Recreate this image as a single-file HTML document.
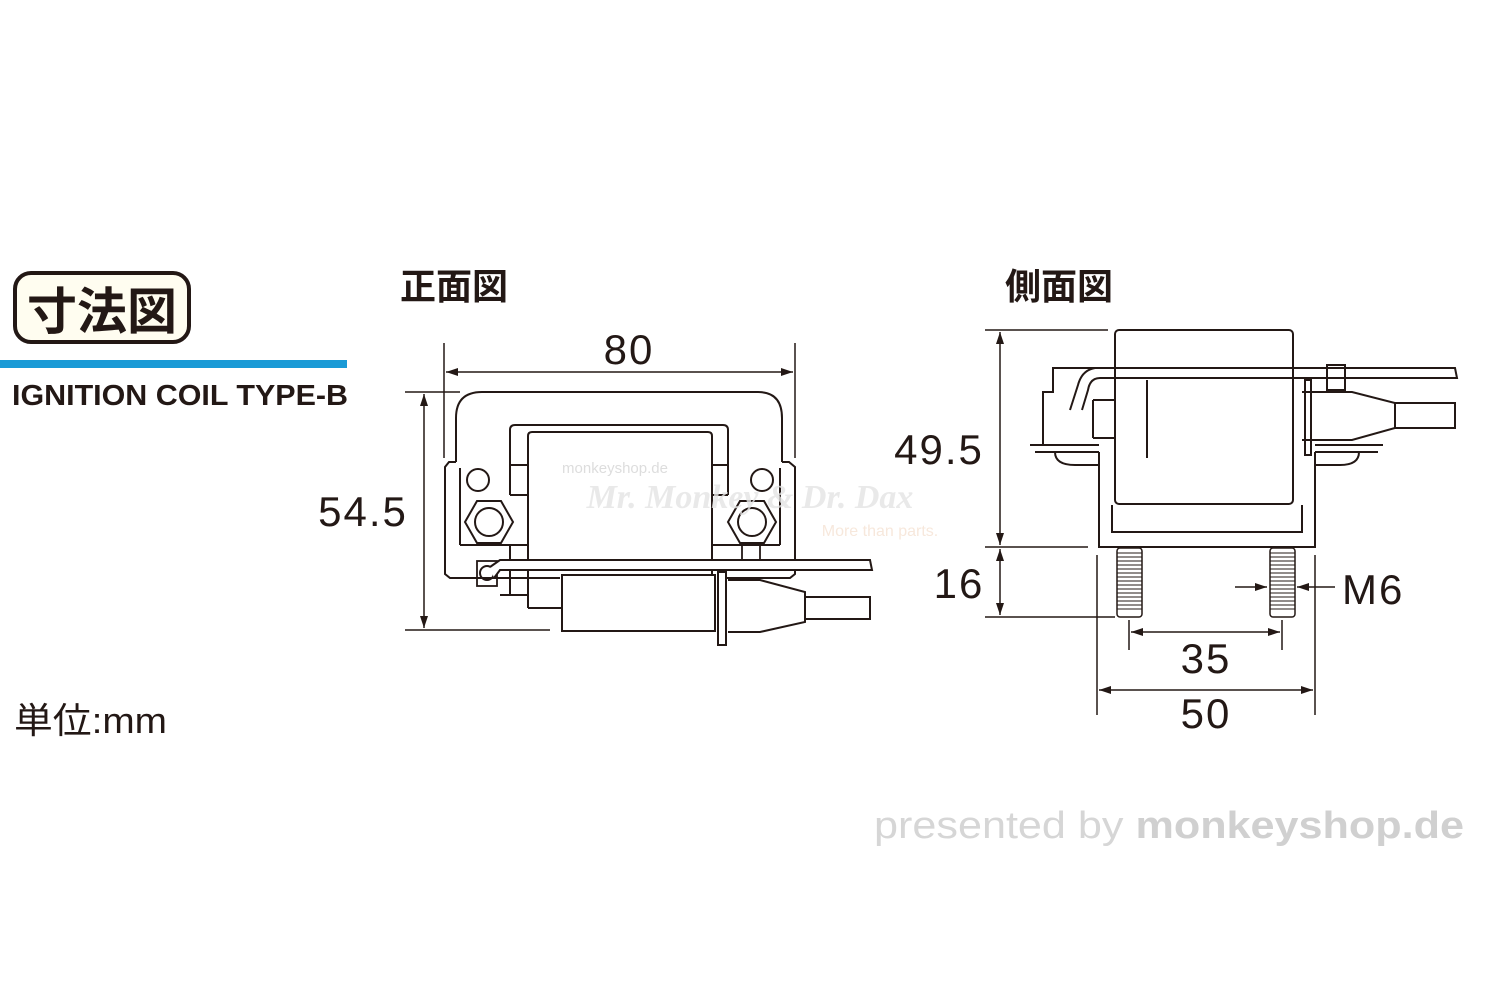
<!DOCTYPE html>
<html><head><meta charset="utf-8"><style>
html,body{margin:0;padding:0;background:#fff;}
body{width:1500px;height:1000px;position:relative;overflow:hidden;font-family:"Liberation Sans","Noto Sans CJK JP",sans-serif;}
</style></head><body>
<svg width="1500" height="1000" viewBox="0 0 1500 1000" xmlns="http://www.w3.org/2000/svg">
<defs>
<marker id="ar" viewBox="0 0 10 10" refX="10" refY="5" markerWidth="12" markerHeight="8" markerUnits="userSpaceOnUse" orient="auto-start-reverse" preserveAspectRatio="none">
<path d="M0,0 L10,5 L0,10 z" fill="#231815"/></marker>
</defs>
<rect x="15" y="273" width="174" height="69" rx="16" fill="#fffdf0" stroke="#231815" stroke-width="4"/>
<text x="102" y="329" font-size="50" font-weight="bold" text-anchor="middle" fill="#231815" font-family="Noto Sans CJK JP, sans-serif">寸法図</text>
<rect x="0" y="360" width="347" height="8" fill="#1a9ad6"/>
<text x="12" y="405" font-size="29" font-weight="bold" fill="#231815" textLength="336" lengthAdjust="spacingAndGlyphs">IGNITION COIL TYPE-B</text>
<text x="14" y="733" font-size="36" fill="#231815" textLength="153" lengthAdjust="spacingAndGlyphs" font-family="Liberation Sans, Noto Sans CJK JP, sans-serif">単位:mm</text>
<text x="400" y="299" font-size="36" font-weight="bold" fill="#231815" font-family="Noto Sans CJK JP, sans-serif">正面図</text>
<text x="1005" y="299" font-size="36" font-weight="bold" fill="#231815" font-family="Noto Sans CJK JP, sans-serif">側面図</text>
<text x="874" y="838" font-size="38" fill="#d6d6d6" textLength="590" lengthAdjust="spacingAndGlyphs">presented by <tspan font-weight="bold" fill="#d0d0d0">monkeyshop.de</tspan></text>

<g fill="none" stroke="#231815" stroke-width="2">
<line x1="444" y1="343" x2="444" y2="458" stroke-width="1.5"/>
<line x1="795" y1="343" x2="795" y2="458" stroke-width="1.5"/>
<line x1="446" y1="372" x2="793" y2="372" marker-start="url(#ar)" marker-end="url(#ar)" stroke-width="1.5"/>
<line x1="405" y1="392" x2="460" y2="392" stroke-width="1.5"/>
<line x1="405" y1="630" x2="550" y2="630" stroke-width="1.5"/>
<line x1="424" y1="394" x2="424" y2="628" marker-start="url(#ar)" marker-end="url(#ar)" stroke-width="1.5"/>
<path d="M456,462 L456,418 Q456,392 482,392 L758,392 Q782,392 782,418 L782,462"/>
<path d="M456,462 L449,462 L445,467 L445,574 L450,578 L560,578"/>
<path d="M782,462 L789,462 L795,467 L795,574 L790,578 L720,578"/>
<line x1="460" y1="468" x2="460" y2="545"/>
<line x1="780" y1="468" x2="780" y2="545"/>
<line x1="460" y1="545" x2="528" y2="545"/>
<line x1="712" y1="545" x2="780" y2="545"/>
<path d="M510,495 L510,430 Q510,425 515,425 L723,425 Q728,425 728,430 L728,495"/>
<line x1="510" y1="465" x2="528" y2="465"/>
<line x1="712" y1="465" x2="728" y2="465"/>
<line x1="510" y1="495" x2="528" y2="495"/>
<line x1="712" y1="495" x2="728" y2="495"/>
<path d="M528,608 L528,436 Q528,432 532,432 L708,432 Q712,432 712,436 L712,575"/>
<line x1="510" y1="545" x2="510" y2="595"/>
<line x1="500" y1="595" x2="528" y2="595"/>
<line x1="528" y1="608" x2="562" y2="608"/>
<circle cx="478" cy="480" r="11"/>
<circle cx="762" cy="480" r="11"/>
<polygon points="465,522 477,501 501,501 513,522 501,543 477,543"/>
<circle cx="489" cy="522" r="14"/>
<polygon points="728,522 740,501 764,501 776,522 764,543 740,543"/>
<circle cx="752" cy="522" r="14"/>
<rect x="742" y="543" width="18" height="27" stroke-width="1.8"/>
<rect x="477" y="561" width="20" height="25" stroke-width="1.8"/>
<circle cx="487" cy="573" r="7"/>
<path d="M490,567 L500,560 L870,560 L872,570 L500,570 L494,578" fill="#fff"/>
<rect x="562" y="575" width="153" height="56"/>
<rect x="718" y="572" width="8" height="73" fill="#fff"/>
<path d="M728,580 L760,580 L805,592 L805,622 L760,632 L728,632"/>
<rect x="805" y="597" width="65" height="22"/>
<line x1="985" y1="330" x2="1108" y2="330" stroke-width="1.5"/>
<line x1="985" y1="547" x2="1088" y2="547" stroke-width="1.5"/>
<line x1="985" y1="617" x2="1115" y2="617" stroke-width="1.5"/>
<line x1="1000" y1="332" x2="1000" y2="545" marker-start="url(#ar)" marker-end="url(#ar)" stroke-width="1.5"/>
<line x1="1000" y1="549" x2="1000" y2="615" marker-start="url(#ar)" marker-end="url(#ar)" stroke-width="1.5"/>
<line x1="1235" y1="587" x2="1267" y2="587" marker-end="url(#ar)" stroke-width="1.5"/>
<line x1="1335" y1="587" x2="1297" y2="587" marker-end="url(#ar)" stroke-width="1.5"/>
<line x1="1129" y1="620" x2="1129" y2="650" stroke-width="1.5"/>
<line x1="1282" y1="620" x2="1282" y2="650" stroke-width="1.5"/>
<line x1="1131" y1="632" x2="1280" y2="632" marker-start="url(#ar)" marker-end="url(#ar)" stroke-width="1.5"/>
<line x1="1097" y1="555" x2="1097" y2="715" stroke-width="1.5"/>
<line x1="1315" y1="555" x2="1315" y2="715" stroke-width="1.5"/>
<line x1="1099" y1="690" x2="1313" y2="690" marker-start="url(#ar)" marker-end="url(#ar)" stroke-width="1.5"/>
<path d="M1099,452 L1099,547 L1315,547 L1315,452"/>
<path d="M1112,505 L1112,532 L1302,532 L1302,505"/>
<rect x="1115" y="330" width="178" height="174" rx="4"/>
<line x1="1147" y1="380" x2="1147" y2="458"/>
<path d="M1030,445 L1099,445 M1315,445 L1383,445"/>
<path d="M1035,452 L1099,452 M1315,452 L1378,452"/>
<path d="M1043,444 L1043,392 L1053,392 L1053,368 L1090,368"/>
<path d="M1090,368 L1455,368 L1457,378 L1100,378 Q1090,378 1088,390 L1082,410" />
<path d="M1070,410 L1078,385 Q1082,370 1095,368"/>
<path d="M1093,400 L1115,400 M1093,438 L1115,438 M1093,400 L1093,438"/>
<path d="M1302,392 L1352,392 L1395,403 L1395,428 L1352,440 L1302,440"/>
<rect x="1305" y="380" width="6" height="75"/>
<rect x="1327" y="365" width="18" height="25"/>
<rect x="1395" y="403" width="60" height="25"/>
<path d="M1055,452 Q1055,465 1075,465 L1099,465"/>
<path d="M1359,452 Q1359,465 1340,465 L1315,465"/>
</g>
<g stroke="#231815" stroke-width="1.5" fill="#fff">
<rect x="1117" y="548" width="25" height="69" rx="3"/>
<rect x="1270" y="548" width="25" height="69" rx="3"/>
</g>
<g stroke="#231815" stroke-width="1">
<path d="M1117,553h25M1117,557h25M1117,561h25M1117,565h25M1117,569h25M1117,573h25M1117,577h25M1117,581h25M1117,585h25M1117,589h25M1117,593h25M1117,597h25M1117,601h25M1117,605h25M1117,609h25"/>
<path d="M1270,553h25M1270,557h25M1270,561h25M1270,565h25M1270,569h25M1270,573h25M1270,577h25M1270,581h25M1270,585h25M1270,589h25M1270,593h25M1270,597h25M1270,601h25M1270,605h25M1270,609h25"/>
</g>
<g font-size="42" fill="#231815" letter-spacing="2">
<text x="629" y="364" text-anchor="middle">80</text>
<text x="363" y="526" text-anchor="middle">54.5</text>
<text x="939" y="464" text-anchor="middle">49.5</text>
<text x="959" y="598" text-anchor="middle">16</text>
<text x="1342" y="604">M6</text>
<text x="1206" y="673" text-anchor="middle">35</text>
<text x="1206" y="728" text-anchor="middle">50</text>
</g>
<text x="615" y="473" font-size="15" fill="#ddd" text-anchor="middle">monkeyshop.de</text>
<text x="750" y="508" font-size="34" font-style="italic" font-weight="bold" fill="#e4e4e4" text-anchor="middle" font-family="Liberation Serif, serif" opacity="0.8">Mr. Monkey &amp; Dr. Dax</text>
<text x="880" y="536" font-size="16" fill="#f7e8dc" text-anchor="middle">More than parts.</text>
</svg>
</body></html>
